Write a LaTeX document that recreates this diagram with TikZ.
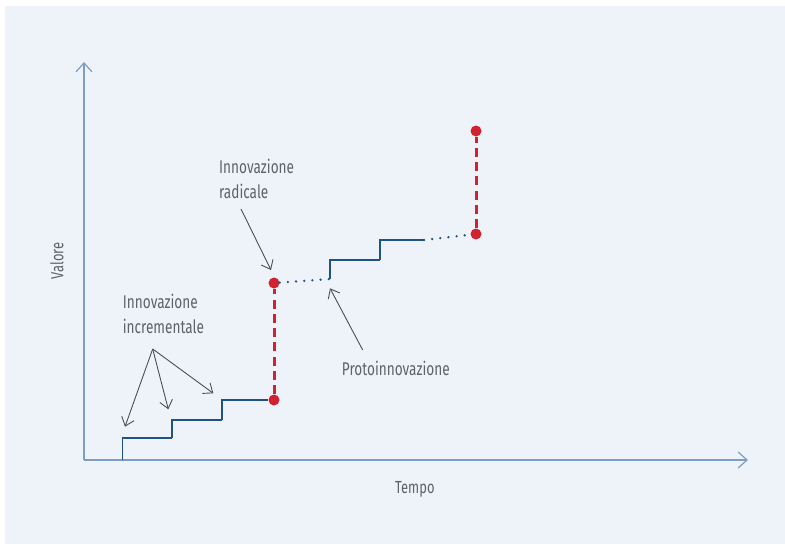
\documentclass[tikz,border=0pt]{standalone}
\usepackage{fontspec}
\setmainfont{Fira Sans}[FakeStretch=0.74]
\usetikzlibrary{positioning,arrows.meta}
\definecolor{bgblue}{HTML}{EEF3FA}
\definecolor{axisblue}{HTML}{7C9DC4}
\definecolor{stepblue}{HTML}{1F5383}
\definecolor{dotred}{HTML}{D1232F}
\definecolor{labelgray}{HTML}{5B636B}
\definecolor{pointergray}{HTML}{4A4F55}

\begin{document}
\begin{tikzpicture}[x=1pt,y=-1pt,
  dot/.style={circle,fill=dotred,inner sep=0pt,minimum size=11pt},
  lbl/.style={text=labelgray,font=\fontsize{18.4}{25.5}\selectfont,align=left,inner sep=0pt,anchor=base west},
  axlbl/.style={text=labelgray,font=\fontsize{17.5}{20}\selectfont,inner sep=0pt},
  pointer/.style={pointergray,line width=0.9pt,-{Straight Barb[length=8pt,width=13pt]}}]

\useasboundingbox (0,0) rectangle (785,544);
\fill[white] (0,0) rectangle (785,544);
\fill[bgblue] (5,6) rectangle (785,544);

% axes
\coordinate(o) at (84,460);
\coordinate(ytop) at (84,62);
\coordinate(xend) at (748,460);
\draw[axisblue,line width=1.2pt,-{Straight Barb[length=9pt,width=16pt]}] (o)--(ytop);
\draw[axisblue,line width=1.2pt,-{Straight Barb[length=9pt,width=16pt]}] (o)--(xend);
\node[axlbl,anchor=base west](tempo) at (395,493) {Tempo};
\node[axlbl,rotate=90](valore) at (57,261) {Valore};

% points
\coordinate(s0) at (122.5,460);
\coordinate(s1) at (172,438);
\coordinate(s2) at (222,420);
\node[dot](r1) at (274,400) {};
\node[dot](r2) at (274,283) {};
\coordinate(p0) at (330,279);
\coordinate(p1) at (380,260);
\coordinate(p2) at (424,240);
\node[dot](r3) at (476,234) {};
\node[dot](r4) at (476,131) {};

\foreach \x/\y in {s0/s1,s1/s2,s2/r1,p0/p1,p1/p2}{
	\draw[stepblue,line width=1.8pt](\x)|-(\y);
}
\draw[stepblue,line width=2.6pt,line cap=round,dash pattern=on 0pt off 8.2pt](r2)--(p0);
\draw[stepblue,line width=2.6pt,line cap=round,dash pattern=on 0pt off 8.2pt](p2)--(r3);
\draw[dotred,line width=3pt,dash pattern=on 9pt off 5.3pt](r1)--(r2);
\draw[dotred,line width=3pt,dash pattern=on 9pt off 5.3pt](r3)--(r4);

% labels
\node[lbl](radicale) at (219,198.8) {Innovazione\\radicale};
\node[lbl](incrementale) at (122.7,333.5) {Innovazione\\incrementale};
\node[lbl](proto) at (341.7,375) {Protoinnovazione};

\coordinate(ra) at (241,209);
\coordinate(rb) at (271,270);
\coordinate(ia) at (152.7,349);
\coordinate(ib1) at (125,426.7);
\coordinate(ib2) at (168.3,409.3);
\coordinate(ib3) at (213.3,393.3);
\coordinate(pa) at (362.7,350);
\coordinate(pb) at (330,288.3);

\draw[pointer](ra)--(rb);
\foreach \t in {ib1,ib2,ib3}{
	\draw[pointer](ia)--(\t);
}
\draw[pointer](pa)--(pb);

\end{tikzpicture}
\end{document}
